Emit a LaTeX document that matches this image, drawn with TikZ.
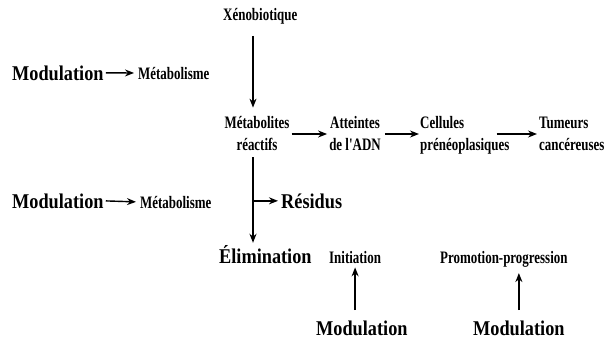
\documentclass[tikz,border=0pt]{standalone}
\usepackage{fontspec}
\setmainfont{Liberation Serif}
\newfontfamily\bigf[FakeStretch=0.87,UprightFont=* Bold]{Liberation Serif}
\newfontfamily\smallf[FakeStretch=0.74,UprightFont=* Bold]{Liberation Serif}
\usetikzlibrary{arrows.meta}
\begin{document}
\begin{tikzpicture}[x=1pt,y=-1pt,
  big/.style={inner sep=0pt,font=\bigf\fontsize{21}{24}\selectfont},
  small/.style={inner sep=0pt,font=\smallf\fontsize{17.5}{22}\selectfont},
  arr/.style={line width=1.4pt,-{Stealth[length=9pt,width=7pt]}}]
\useasboundingbox (0,0) rectangle (608,343);
\coordinate (cx) at (253,0);
\coordinate (ry) at (0,134);
% texts
\node[small,anchor=base west] (xeno) at (223,20) {Xénobiotique};
\node[big,anchor=base west] (mod1) at (12,80) {Modulation};
\node[small,anchor=base west] (met1) at (138,79) {Métabolisme};
\node[small,anchor=base,align=center] (metab) at (257,150) {Métabolites\\réactifs};
\node[small,anchor=base,align=center] (adn) at (355,150) {Atteintes\\de l'ADN};
\node[small,anchor=base west,align=left] (cell) at (420,150) {Cellules\\prénéoplasiques};
\node[small,anchor=base west,align=left] (tum) at (539,150) {Tumeurs\\cancéreuses};
\node[big,anchor=base west] (mod2) at (12,208) {Modulation};
\node[small,anchor=base west] (met2) at (140,208) {Métabolisme};
\node[big,anchor=base west] (res) at (281,208) {Résidus};
\node[big,anchor=base west] (elim) at (219,263) {Élimination};
\node[small,anchor=base west] (init) at (329,263) {Initiation};
\node[small,anchor=base west] (promo) at (440,263) {Promotion-progression};
\node[big,anchor=base west] (mod3) at (316,335) {Modulation};
\node[big,anchor=base west] (mod4) at (473,335) {Modulation};
% connectors
\draw[arr,shorten <=12pt,shorten >=8pt] (xeno.south -| cx) -- (metab.north -| cx);
\draw[arr,shorten <=2pt,shorten >=4pt] (mod1.east) -- (met1.west);
\draw[arr,shorten <=2pt,shorten >=4pt] (mod2.east) -- (met2.west);
\draw[arr,shorten <=2pt,shorten >=2pt] (metab.east |- ry) -- (adn.west |- ry);
\draw[arr,shorten <=4pt,shorten >=1pt] (adn.east |- ry) -- (cell.west |- ry);
\draw[arr,shorten <=-13pt,shorten >=2pt] (cell.east |- ry) -- (tum.west |- ry);
\draw[arr,shorten <=7pt,shorten >=2pt] (metab.south -| cx) -- (elim.north -| cx);
\draw[arr,shorten >=3pt] (cx |- res.west) -- (res.west);
\draw[arr,shorten <=10pt,shorten >=4pt] (mod3.north -| init) -- (init.south);
\draw[arr,shorten <=10pt,shorten >=6pt] (mod4.north) -- (mod4.north |- promo.south);
\end{tikzpicture}
\end{document}
